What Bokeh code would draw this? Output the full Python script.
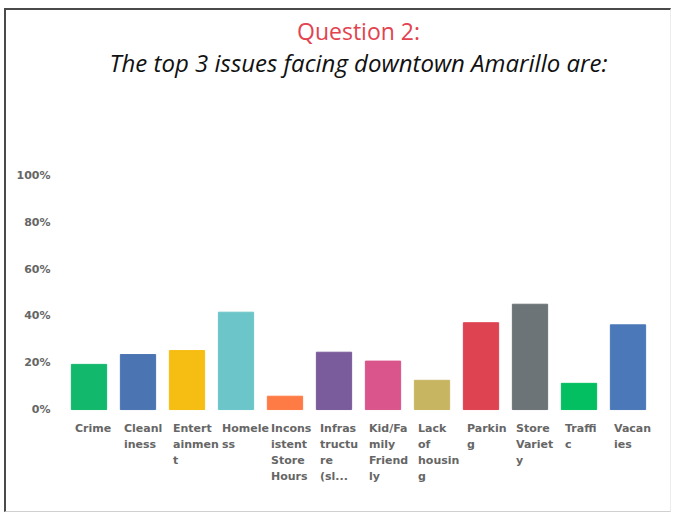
from bokeh.plotting import figure
from bokeh.models import Title, FixedTicker, PrintfTickFormatter, ColumnDataSource
from bokeh.embed import file_html
from bokeh.resources import INLINE

categories = ["Crime", "Cleanliness", "Entertainment", "Homelessness",
              "Inconsistent Store Hours", "Infrastructure (sl...", "Kid/Family Friendly",
              "Lack of housing", "Parking", "Store Variety", "Traffic", "Vacancies"]
tick_labels = ["Crime", "Cleanl\niness", "Entert\nainmen\nt", "Homele\nss",
               "Incons\nistent\nStore\nHours", "Infras\ntructu\nre\n(sl...", "Kid/Fa\nmily\nFriend\nly",
               "Lack\nof\nhousin\ng", "Parkin\ng", "Store\nVariet\ny", "Traffi\nc", "Vacan\nies"]
values = [19.3, 23.5, 25.2, 41.6, 5.7, 24.5, 20.7, 12.5, 37.1, 45.0, 11.2, 36.2]
colors = ["#12b86c", "#4b74b2", "#f6bd12", "#6cc5c9", "#ff7b45", "#7a5b9b",
          "#d9558b", "#c8b562", "#de4352", "#6c7477", "#04bf62", "#4a78b8"]
y_ticks = [0, 20, 40, 60, 80, 100]

src = ColumnDataSource(dict(cat=categories, val=values, col=colors, lab=tick_labels,
                            zero=[0] * len(categories)))

p = figure(x_range=categories, y_range=(-38, 100), width=667, height=504,
           output_backend="svg", toolbar_location=None,
           min_border_left=58, min_border_right=21, min_border_bottom=16, min_border_top=0)
p.x_range.range_padding = 0
p.title.visible = False
p.styles = {"border-top": "2px solid #4a4a4a", "border-left": "2px solid #4a4a4a",
            "border-bottom": "1px solid #d0d0d0", "border-right": "1px solid #ececec",
            "margin-top": "8px", "margin-left": "4px"}

p.vbar(x="cat", top="val", width=0.72, color="col", source=src)

p.text(x="cat", y="zero", text="lab", source=src, x_offset=-14, y_offset=12,
       text_align="left", text_baseline="top", text_font_size="11px",
       text_font_style="bold", text_color="#666666", text_line_height=1.25,
       text_font={"value": "DejaVu Sans"})

p.xaxis.visible = False
yax = p.yaxis[0]
yax.ticker = FixedTicker(ticks=y_ticks)
yax.formatter = PrintfTickFormatter(format="%d%%")
yax.axis_line_color = None
yax.major_tick_line_color = None
yax.minor_tick_line_color = None
yax.major_label_standoff = 8
yax.major_label_text_font = "DejaVu Sans"
yax.major_label_text_font_style = "bold"
yax.major_label_text_font_size = "11px"
yax.major_label_text_color = "#666666"

p.xgrid.grid_line_color = None
p.ygrid.grid_line_color = None
p.outline_line_color = None

spacer = Title(text=" ", text_font_size="10px", standoff=89)
t2 = Title(text="The top 3 issues facing downtown Amarillo are:", align="center",
           text_font="Open Sans", text_font_style="italic", text_font_size="24px",
           text_color="#111111", standoff=-10)
t1 = Title(text="Question 2:", align="center", text_font="Open Sans",
           text_font_style="normal", text_font_size="23px", text_color="#e2434f",
           standoff=4)
p.add_layout(spacer, "above")
p.add_layout(t2, "above")
p.add_layout(t1, "above")

open("out.html", "w").write(file_html(p, INLINE))
